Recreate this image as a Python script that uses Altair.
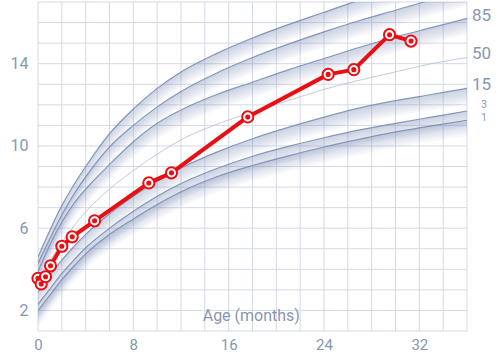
import altair as alt
import pandas as pd

# ---------------- data ----------------
ages = [0, 1, 2, 3, 4, 6, 8, 10, 12, 15, 18, 21, 24, 27, 30, 33, 36]
p99 = [4.6, 5.9, 7.1, 8.1, 9.0, 10.6, 11.8, 12.8, 13.6, 14.5, 15.25, 15.9, 16.5, 17.1, 17.65, 18.15, 18.6]
p97 = [4.3, 5.5, 6.65, 7.65, 8.5, 9.95, 11.0, 11.9, 12.65, 13.55, 14.3, 14.95, 15.55, 16.1, 16.6, 17.1, 17.55]
p85 = [3.9, 5.2, 6.3, 7.2, 7.9, 9.1, 10.2, 11.1, 11.75, 12.5, 13.1, 13.7, 14.25, 14.8, 15.3, 15.75, 16.2]
p50 = [3.4, 4.4, 5.3, 6.1, 6.8, 7.9, 8.8, 9.6, 10.3, 11.05, 11.65, 12.2, 12.75, 13.2, 13.6, 14.0, 14.3]
p15 = [2.9, 3.7, 4.45, 5.1, 5.7, 6.7, 7.55, 8.28, 8.93, 9.7, 10.35, 10.9, 11.4, 11.85, 12.2, 12.5, 12.8]
p3 = [2.3, 3.05, 3.8, 4.45, 5.05, 6.0, 6.82, 7.55, 8.17, 8.9, 9.5, 9.98, 10.4, 10.78, 11.1, 11.4, 11.7]
p1 = [2.0, 2.75, 3.5, 4.15, 4.75, 5.7, 6.45, 7.15, 7.77, 8.5, 9.05, 9.52, 9.95, 10.33, 10.68, 10.98, 11.25]

child_age = [0.0, 0.27, 0.63, 1.05, 2.0, 2.87, 4.75, 9.3, 11.2, 17.6, 24.35, 26.5, 29.5, 31.3]
child_weight = [3.56, 3.29, 3.64, 4.17, 5.12, 5.58, 6.36, 8.2, 8.69, 11.41, 13.48, 13.71, 15.41, 15.1]

x_grid = list(range(0, 37, 2))
y_grid = list(range(1, 18))
x_labels = [0, 8, 16, 24, 32]
y_labels = [2, 6, 10, 14]

big_labels = ["85", "50", "15"]
big_label_y = [16.3, 14.45, 12.95]
small_labels = ["3", "1"]
small_label_y = [12.0, 11.38]

# ---------------- styling ----------------
GRID = "#d4d9e7"
TEXT = "#8796b2"
LINE = "#7a8eb4"
SHADE = "#7a92be"
RED = "#ea0d12"
FONT = "Roboto"

curves = {"99": p99, "97": p97, "85": p85, "15": p15, "3": p3, "1": p1}

N_BANDS = 6
BAND_W = 0.75
band_rows = []
line_rows = []
for name, vals in curves.items():
    for a, v in zip(ages, vals):
        line_rows.append({"curve": name, "age": a, "w": v})
        for k in range(1, N_BANDS + 1):
            band_rows.append({"key": f"{name}-{k}", "age": a, "w": v,
                              "w2": v - BAND_W * k / N_BANDS})
bands = pd.DataFrame(band_rows)
lines = pd.DataFrame(line_rows)
median = pd.DataFrame({"age": ages, "w": p50})
child = pd.DataFrame({"age": child_age, "w": child_weight})

xscale = alt.Scale(domain=[0, 36], nice=False, zero=False)
yscale = alt.Scale(domain=[1, 17], nice=False, zero=False)

xaxis = alt.Axis(values=x_labels, grid=False, domain=False, ticks=False,
                 title=None, labelPadding=6, labelFontSize=15, labelColor=TEXT,
                 labelFont=FONT, labelFlush=False, labelOverlap=False)
yaxis = alt.Axis(values=y_labels, grid=False, domain=False, ticks=False,
                 title=None, labelPadding=10, labelFontSize=16, labelColor=TEXT,
                 labelFont=FONT, labelFlush=False, labelOverlap=False)

vgrid = alt.Chart(pd.DataFrame({"age": x_grid})).mark_rule(
    color=GRID, strokeWidth=1
).encode(x=alt.X("age:Q", scale=xscale, axis=xaxis))

hgrid = alt.Chart(pd.DataFrame({"w": y_grid})).mark_rule(
    color=GRID, strokeWidth=1
).encode(y=alt.Y("w:Q", scale=yscale, axis=yaxis))

band_layer = alt.Chart(bands).mark_area(
    interpolate="monotone", fill=SHADE, opacity=0.07, clip=True
).encode(x="age:Q", y="w:Q", y2="w2:Q", detail="key:N")

curve_layer = alt.Chart(lines).mark_line(
    interpolate="monotone", color=LINE, strokeWidth=1.2, opacity=0.9, clip=True
).encode(x="age:Q", y="w:Q", detail="curve:N")

median_layer = alt.Chart(median).mark_line(
    interpolate="monotone", color="#b3bccf", strokeWidth=0.8, clip=True
).encode(x="age:Q", y="w:Q")

child_line = alt.Chart(child).mark_line(
    color=RED, strokeWidth=4, strokeJoin="round", strokeCap="round"
).encode(x="age:Q", y="w:Q")

child_ring = alt.Chart(child).mark_point(
    shape="circle", filled=True, fill="white", stroke=RED, strokeWidth=2, size=125, opacity=1
).encode(x="age:Q", y="w:Q")

child_dot = alt.Chart(child).mark_circle(color=RED, size=26, opacity=1).encode(
    x="age:Q", y="w:Q")

lab_big = alt.Chart(pd.DataFrame({"t": big_labels, "w": big_label_y})).mark_text(
    align="left", baseline="middle", fontSize=17, color=TEXT, font=FONT, dx=5
).encode(x=alt.value(429), y="w:Q", text="t:N")

lab_small = alt.Chart(pd.DataFrame({"t": small_labels, "w": small_label_y})).mark_text(
    align="center", baseline="middle", fontSize=10, color=TEXT, font=FONT
).encode(x=alt.value(446), y="w:Q", text="t:N")

title_text = alt.Chart(pd.DataFrame({"t": ["Age (months)"], "age": [17.9], "w": [1.75]})).mark_text(
    align="center", baseline="middle", fontSize=16, color=TEXT, font=FONT
).encode(x="age:Q", y="w:Q", text="t:N")

chart = alt.layer(
    vgrid, hgrid, band_layer, curve_layer, median_layer, title_text,
    child_line, child_ring, child_dot, lab_big, lab_small
).properties(
    width=429, height=329,
    padding={"left": 38, "top": 2, "right": 33, "bottom": 23},
    autosize=alt.AutoSizeParams(type="none"),
    background="white",
).configure_view(stroke=None)

chart.save("out.html", embed_options={"renderer": "svg", "actions": False})
